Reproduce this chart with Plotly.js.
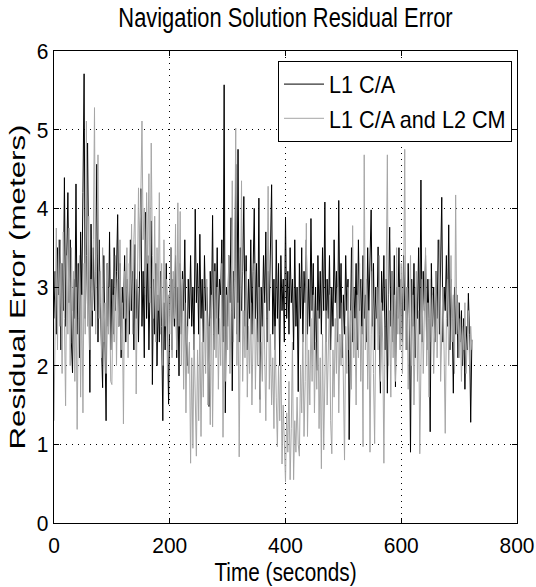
<!DOCTYPE html>
<html>
<head>
<meta charset="utf-8">
<script src="https://cdn.plot.ly/plotly-3.0.1.min.js"></script>
<style>html,body{margin:0;padding:0;background:#fff;}#chart{width:536px;height:587px;}</style>
</head>
<body>
<div id="chart"></div>
<script>
// Sample spacing of the recorded residuals (seconds)
const sampleStep = 2;

// L1 C/A residual error (meters), one value every 2 s from t = 0
const l1ca = [
  2.6, 3.2, 2.4, 3.5, 2.9, 3.6, 2.2, 3.3, 2.7, 4.39,
  2.5, 3.4, 4.2, 2.8, 3.6, 2.3, 1.91, 3.1, 2.6, 4.31,
  2.4, 3.3, 2.1, 3.7, 2.9, 4.2, 5.71, 2.6, 3.4, 4.83,
  2.9, 1.66, 3.8, 2.5, 3.5, 2.7, 3.2, 4.56, 2.3, 3.6,
  2.8, 2.2, 1.72, 3.4, 2.6, 1.3, 3.3, 2.5, 3.7, 2.2,
  3.1, 2.4, 3.5, 2.7, 3.2, 3.92, 2.5, 3.3, 2.1, 3.0,
  2.6, 3.4, 2.3, 3.1, 2.8, 2.4, 3.6, 2.7, 3.2, 2.2,
  3.54, 2.6, 3.1, 2.3, 3.3, 4.25, 2.5, 3.2, 2.1, 3.95,
  2.6, 3.4, 2.2, 3.0, 3.84, 1.76, 3.1, 2.4, 3.3, 2.0,
  2.9, 2.3, 3.2, 2.5, 1.3, 2.8, 2.2, 3.3, 2.4, 1.51,
  2.7, 3.5, 2.2, 3.1, 2.5, 3.4, 2.1, 3.0, 1.87, 3.3,
  2.4, 3.2, 2.7, 3.6, 2.3, 2.0, 3.1, 2.6, 3.4, 2.5,
  3.0, 2.2, 3.99, 2.8, 3.3, 2.4, 3.67, 2.6, 3.1, 2.3,
  3.4, 2.7, 3.0, 2.5, 1.48, 3.2, 2.6, 3.91, 2.2, 3.3,
  2.6, 3.5, 2.4, 3.1, 2.9, 3.6, 2.3, 5.57, 1.4, 3.0,
  2.5, 3.4, 2.8, 3.88, 1.68, 3.2, 2.6, 4.56, 2.4, 4.75,
  2.3, 3.5, 2.7, 3.2, 4.15, 2.5, 3.4, 2.2, 3.1, 2.6,
  3.6, 2.4, 3.2, 4.0, 2.6, 3.3, 2.3, 4.13, 1.57, 3.0,
  2.5, 3.4, 2.8, 3.7, 2.3, 3.2, 2.7, 3.5, 4.3, 2.4,
  3.1, 2.2, 3.6, 2.6, 3.3, 2.0, 3.4, 2.7, 3.1, 2.3,
  3.89, 2.6, 3.2, 2.4, 3.5, 2.8, 3.1, 2.2, 3.6, 2.5,
  3.0, 1.67, 3.3, 2.6, 3.5, 2.3, 3.2, 2.8, 3.6, 2.4,
  3.1, 2.5, 3.87, 2.7, 3.3, 2.2, 3.0, 1.94, 3.4, 2.6,
  3.2, 2.4, 3.5, 2.7, 4.08, 2.3, 3.1, 2.6, 3.4, 2.2,
  3.0, 2.5, 3.6, 2.8, 3.2, 2.3, 4.1, 2.6, 3.3, 2.1,
  2.9, 2.4, 3.4, 2.7, 3.1, 1.06, 2.8, 3.5, 2.3, 3.0,
  2.6, 3.3, 2.2, 3.6, 2.7, 3.1, 2.4, 3.4, 2.6, 2.9,
  2.3, 3.5, 2.7, 3.2, 3.98, 2.5, 3.3, 2.2, 3.0, 2.6,
  3.51, 2.4, 1.65, 3.2, 2.7, 3.4, 2.2, 3.1, 1.65, 2.9,
  3.76, 2.5, 3.2, 2.3, 3.4, 1.73, 3.0, 2.6, 3.5, 2.4,
  3.1, 2.3, 3.4, 2.7, 3.0, 2.2, 3.3, 2.6, 0.9, 3.1,
  2.5, 3.3, 2.1, 3.0, 2.6, 3.5, 2.4, 4.36, 2.3, 3.2,
  2.7, 3.4, 2.2, 3.1, 2.6, 1.16, 3.3, 2.5, 3.0, 2.3,
  3.2, 2.6, 3.6, 2.4, 3.1, 4.14, 2.3, 3.0, 2.7, 3.4,
  2.5, 3.79, 2.2, 3.1, 2.6, 1.65, 3.0, 2.4, 2.9, 2.1,
  2.8, 2.3, 2.7, 2.0, 2.6, 1.7, 2.5, 2.2, 2.92, 2.4,
  1.28, 2.33
];

// L1 C/A and L2 CM residual error (meters), one value every 2 s from t = 0
const l1caL2cm = [
  1.3, 2.8, 3.75, 2.2, 3.6, 2.5, 3.3, 1.9, 3.7, 2.6,
  1.49, 3.4, 2.4, 3.75, 2.0, 3.5, 2.7, 3.2, 1.8, 3.0,
  1.19, 2.6, 3.4, 1.6, 2.9, 1.4, 3.3, 2.4, 5.11, 2.5,
  3.9, 2.2, 3.1, 2.7, 3.6, 5.28, 2.4, 3.4, 4.68, 2.6,
  3.2, 2.1, 3.5, 2.3, 2.8, 1.9, 3.3, 2.4, 3.0, 1.8,
  1.76, 2.9, 2.3, 3.4, 2.0, 3.1, 2.5, 3.6, 2.2, 2.8,
  1.26, 3.2, 2.6, 3.5, 2.1, 3.3, 2.7, 3.8, 2.4, 3.6,
  4.05, 1.64, 3.5, 4.26, 3.2, 4.2, 5.11, 3.6, 4.0, 2.9,
  4.2, 3.3, 4.44, 2.8, 4.83, 3.4, 2.6, 3.9, 2.3, 3.5,
  2.7, 4.2, 2.4, 3.3, 2.0, 3.6, 2.5, 3.1, 1.9, 2.9,
  2.4, 3.5, 2.1, 3.2, 2.6, 3.8, 2.2, 4.07, 2.5, 3.96,
  2.0, 3.1, 1.7, 2.8, 1.4, 2.5, 1.9, 2.3, 0.76, 2.1,
  0.95, 2.4, 1.5, 0.85, 2.2, 1.3, 2.6, 1.1, 2.3, 1.6,
  2.8, 1.9, 3.1, 1.5, 2.5, 1.25, 2.9, 1.22, 2.4, 3.2,
  2.1, 3.0, 1.7, 2.6, 2.0, 3.3, 1.09, 2.5, 1.8, 2.9,
  2.2, 3.4, 1.9, 2.7, 4.35, 2.3, 3.1, 5.02, 2.0, 2.8,
  0.84, 2.4, 4.35, 1.8, 2.7, 2.1, 3.2, 1.6, 2.5, 1.9,
  2.8, 1.5, 2.4, 3.3, 1.7, 2.6, 2.0, 3.0, 1.4, 2.3,
  1.8, 2.9, 2.2, 1.3, 2.6, 4.28, 1.7, 2.4, 1.5, 2.1,
  1.2, 2.5, 1.6, 0.97, 2.0, 1.3, 2.2, 0.75, 1.5, 1.1,
  0.52, 1.4, 0.9, 1.8, 0.55, 1.2, 2.3, 0.55, 1.3, 0.9,
  1.6, 1.0, 0.85, 2.0, 1.4, 2.4, 1.1, 1.8, 3.81, 1.1,
  2.2, 1.5, 2.6, 1.8, 2.9, 1.4, 2.3, 1.7, 2.7, 1.2,
  2.1, 0.69, 2.4, 0.93, 1.9, 2.7, 1.5, 2.3, 2.9, 1.3,
  0.88, 2.2, 1.6, 2.6, 1.9, 3.0, 1.4, 2.4, 2.0, 2.8,
  1.6, 0.8, 2.5, 1.9, 3.0, 2.2, 2.7, 1.7, 3.78, 2.1,
  2.6, 1.5, 2.9, 2.1, 3.3, 1.8, 2.5, 0.97, 4.68, 2.2,
  3.1, 1.7, 2.7, 0.9, 2.4, 3.2, 1.9, 1.01, 2.6, 3.0,
  2.2, 3.4, 1.8, 2.8, 2.3, 0.76, 2.5, 3.1, 4.68, 2.0,
  2.7, 1.6, 3.2, 2.1, 2.9, 1.8, 3.5, 2.4, 3.0, 2.2,
  3.3, 1.9, 2.8, 4.75, 2.2, 3.0, 1.7, 2.6, 3.4, 2.0,
  2.9, 1.5, 2.5, 3.2, 1.8, 2.7, 0.88, 2.4, 3.1, 1.9,
  2.6, 3.5, 2.0, 2.8, 1.6, 3.1, 2.3, 2.9, 1.9, 2.5,
  3.2, 2.1, 2.7, 3.6, 1.8, 2.5, 3.0, 2.2, 1.14, 2.6,
  3.1, 2.0, 2.8, 3.4, 2.3, 2.9, 1.9, 4.17, 2.4, 2.8,
  2.1, 2.6, 1.8, 2.5, 2.2, 2.8, 1.9, 2.4, 2.7, 2.0,
  2.5, 2.2
];

const seriesNames = ['L1 C/A', 'L1 C/A and L2 CM'];
const xTicks = [0, 200, 400, 600, 800];
const yTicks = [0, 1, 2, 3, 4, 5, 6];

const timeOf = arr => arr.map((_, i) => i * sampleStep);

const FONT = '"Liberation Sans", Arial, Helvetica, sans-serif';

const traces = [
  { x: timeOf(l1ca), y: l1ca, name: seriesNames[0], type: 'scatter', mode: 'lines',
    line: { color: '#000000', width: 1 } },
  { x: timeOf(l1caL2cm), y: l1caL2cm, name: seriesNames[1], type: 'scatter', mode: 'lines',
    line: { color: '#a6a6a6', width: 1 } }
];

const axisCommon = {
  showline: true, linecolor: '#000', linewidth: 1, mirror: 'ticks',
  ticks: 'inside', ticklen: 5, tickcolor: '#000', tickwidth: 1,
  showgrid: true, gridcolor: '#000', gridwidth: 1, griddash: '1px,5px',
  zeroline: false, automargin: false, ticklabeloverflow: 'allow',
  tickfont: { family: FONT, size: 22.5, color: '#000' }
};

const layout = {
  width: 536, height: 587,
  margin: { l: 54, r: 19, t: 51, b: 64, autoexpand: false },
  paper_bgcolor: '#fff', plot_bgcolor: '#fff',
  font: { family: FONT, color: '#000' },
  showlegend: true,
  title: { text: 'Navigation Solution Residual Error', font: { family: FONT, size: 27, color: '#000' },
           x: 0.5, xref: 'paper', xanchor: 'center', y: 1 - 18/587, yref: 'container', yanchor: 'middle' },
  xaxis: Object.assign({}, axisCommon, {
    range: [0, 800], tickvals: xTicks, ticktext: xTicks.map(String), ticklabelstandoff: 2,
    title: { text: 'Time (seconds)', font: { family: FONT, size: 25, color: '#000' }, standoff: 6 }
  }),
  yaxis: Object.assign({}, axisCommon, {
    range: [0, 6], tickvals: yTicks, ticktext: yTicks.map(String),
    title: { text: 'Residual Error (meters)', font: { family: FONT, size: 22, color: '#000' }, standoff: 4 }
  }),
  legend: {
    x: (278 - 54) / 463, y: (523 - 61) / 472, xanchor: 'left', yanchor: 'top',
    bgcolor: '#fff', bordercolor: '#000', borderwidth: 1,
    font: { family: FONT, size: 24, color: '#000' },
    itemwidth: 40, tracegroupgap: 0
  }
};

// Narrow the glyphs of a text along its baseline (the reference's texts are tall and narrow)
function squeezeText(el, factor) {
  const len = el.getComputedTextLength();
  el.setAttribute('textLength', (len * factor).toFixed(2));
  el.setAttribute('lengthAdjust', 'spacingAndGlyphs');
  return len - len * factor;
}

Plotly.newPlot('chart', traces, layout, { displayModeBar: false, staticPlot: true }).then(gd => {
  // Rotated axis title: elongated along its baseline, as in the reference
  const yt = gd.querySelector('.ytitle');
  if (yt) {
    yt.setAttribute('textLength', '325');
    yt.setAttribute('lengthAdjust', 'spacingAndGlyphs');
  }
  gd.querySelectorAll('.xtick text, .ytick text').forEach(el => squeezeText(el, 0.93));
  gd.querySelectorAll('.gtitle').forEach(el => squeezeText(el, 0.81));
  gd.querySelectorAll('.xtitle').forEach(el => squeezeText(el, 0.83));
  let saved = 0;
  gd.querySelectorAll('.legendtext').forEach(el => { saved = Math.max(saved, squeezeText(el, 0.9)); });
  const bg = gd.querySelector('.legend rect.bg');
  if (bg && saved > 0) {
    const w = parseFloat(bg.getAttribute('width'));
    bg.setAttribute('width', (w - saved).toFixed(2));
  }
});
</script>
</body>
</html>
